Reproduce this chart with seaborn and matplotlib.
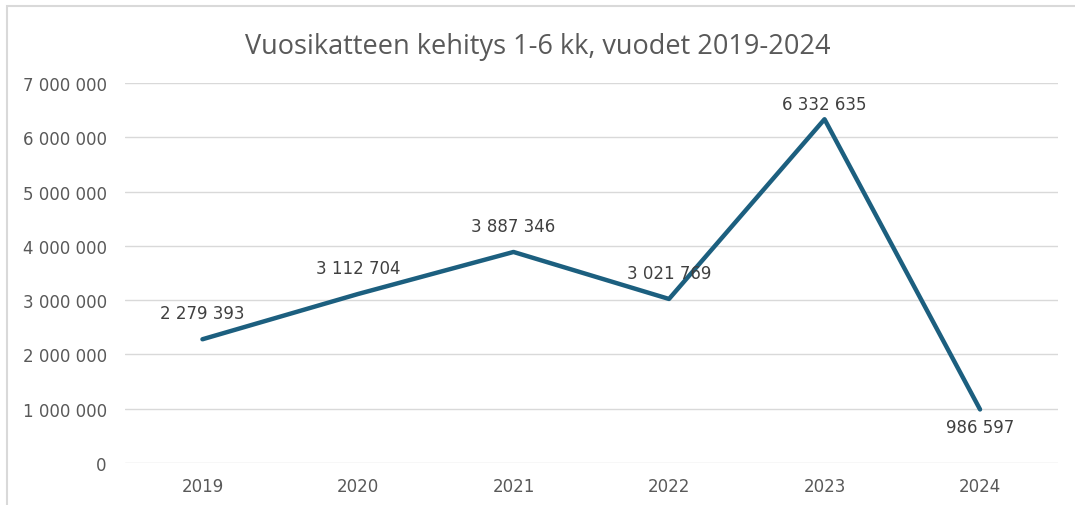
import matplotlib
matplotlib.use('agg')
import matplotlib.pyplot as plt
import seaborn as sns
import pandas as pd
from matplotlib.patches import Rectangle

years = ['2019', '2020', '2021', '2022', '2023', '2024']
values = [2279393, 3112704, 3887346, 3021769, 6332635, 986597]
label_pos = ['above', 'above', 'above', 'above', 'above', 'below']
y_ticks = [0, 1000000, 2000000, 3000000, 4000000, 5000000, 6000000, 7000000]
title = 'Vuosikatteen kehitys 1-6 kk, vuodet 2019-2024'

line_color = '#1c5f7f'
text_color = '#595959'


def fmt(v):
    return f'{v:,}'.replace(',', ' ')


def main():
    df = pd.DataFrame({'year': years, 'value': values})
    sns.set_style('white')
    plt.rcParams['font.family'] = ['DejaVu Sans']

    fig = plt.figure(figsize=(10.75, 5.06), dpi=100)
    ax = fig.add_axes([0.116, 0.083, 0.868, 0.751])

    # outer chart border (partly cut off at right/bottom)
    fig.patches.append(Rectangle((7 / 1075, -0.1), 1.2, 1 - 7 / 506 + 0.1,
                                 transform=fig.transFigure, fill=False,
                                 edgecolor='#d9d9d9', linewidth=1.5))

    sns.lineplot(data=df, x='year', y='value', ax=ax, color=line_color,
                 linewidth=3.2, sort=False)

    ax.set_xlim(-0.5, 5.5)
    ax.set_ylim(0, 7000000)
    ax.set_yticks(y_ticks)
    ax.set_yticklabels([fmt(t) for t in y_ticks])
    ax.grid(axis='y', color='#d9d9d9', linewidth=1)
    ax.set_axisbelow(True)
    for s in ax.spines.values():
        s.set_visible(False)
    ax.tick_params(axis='both', length=0, labelsize=12, labelcolor=text_color)
    ax.tick_params(axis='y', pad=13)
    ax.tick_params(axis='x', pad=10)
    ax.set_xlabel('')
    ax.set_ylabel('')

    # pixels per value unit, to keep labels inside the plot area
    px_per_unit = ax.get_position().height * fig.get_figheight() * 72 / 7000000
    for i, (v, p) in enumerate(zip(values, label_pos)):
        if p == 'above':
            off = min(19, (7000000 - v) * px_per_unit - 15)
        else:
            off = -13
        ax.annotate(fmt(v), (i, v), xytext=(0, off), textcoords='offset points',
                    ha='center', va='center', fontsize=12, color='#404040')

    fig.text(0.5, 1 - 47 / 506, title, ha='center', va='center', fontsize=19.5,
             color=text_color, family=['Open Sans', 'DejaVu Sans'])

    plt.savefig('out.png', dpi=100)


if __name__ == '__main__':
    main()
